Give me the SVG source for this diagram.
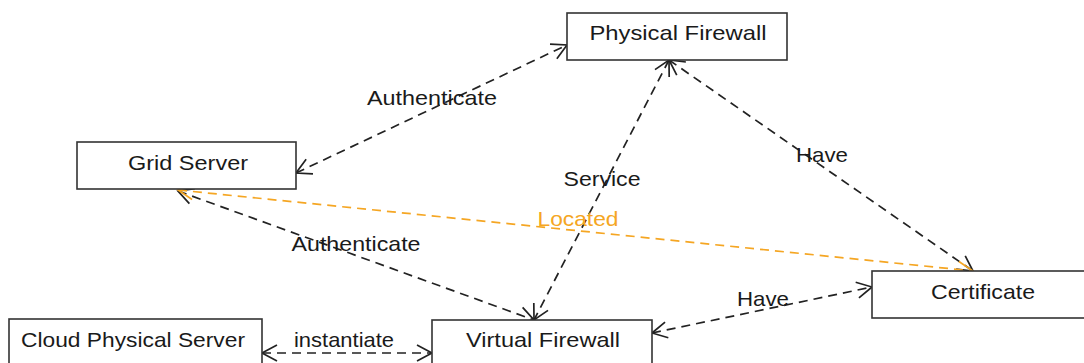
<svg xmlns="http://www.w3.org/2000/svg" width="1084" height="363" viewBox="0 0 1084 363">
<style>
.box{fill:#fff;stroke:#333;stroke-width:1.6}
.lbl{font-family:"Liberation Sans",Arial,sans-serif;font-size:21px;fill:#1a1a1a;text-anchor:middle}
.edge{fill:none;stroke:#222;stroke-width:1.7;stroke-dasharray:9,6}
.orange{stroke:#f5a623}
.olbl{fill:#f5a623}
</style>
<defs>
<marker id="arr" markerUnits="userSpaceOnUse" markerWidth="34" markerHeight="34" viewBox="-17 -17 34 34" refX="0" refY="0" orient="auto-start-reverse">
<path d="M-15,-8 L0,0 L-15,8" fill="none" stroke="#222" stroke-width="1.7"/>
</marker>
<marker id="arrO" markerUnits="userSpaceOnUse" markerWidth="34" markerHeight="34" viewBox="-17 -17 34 34" refX="0" refY="0" orient="auto-start-reverse">
<path d="M-15,-8 L0,0 L-15,8" fill="none" stroke="#f5a623" stroke-width="1.7"/>
</marker>
</defs>
<rect width="1084" height="363" fill="#fff"/>
<g id="connectors">
<path class="edge" d="M296,173 L567,45" marker-start="url(#arr)" marker-end="url(#arr)"/>
<path class="edge" d="M669,60 L534,320" marker-start="url(#arr)" marker-end="url(#arr)"/>
<path class="edge" d="M669,60 L973,271" marker-start="url(#arr)" marker-end="url(#arr)"/>
<path class="edge" d="M178,191 L534,320" marker-start="url(#arr)" marker-end="url(#arr)"/>
<path class="edge orange" d="M178,190 L973,271" marker-start="url(#arrO)" marker-end="url(#arrO)"/>
<path class="edge" d="M652,333 L872,287" marker-start="url(#arr)" marker-end="url(#arr)"/>
<path class="edge" d="M262,353 L432,353" marker-start="url(#arr)" marker-end="url(#arr)"/>
<text class="lbl" x="432" y="105" textLength="130" lengthAdjust="spacingAndGlyphs">Authenticate</text>
<text class="lbl" x="602" y="186" textLength="77" lengthAdjust="spacingAndGlyphs">Service</text>
<text class="lbl" x="822" y="162" textLength="52" lengthAdjust="spacingAndGlyphs">Have</text>
<text class="lbl" x="356" y="251" textLength="129" lengthAdjust="spacingAndGlyphs">Authenticate</text>
<text class="lbl olbl" x="578" y="226" textLength="81" lengthAdjust="spacingAndGlyphs">Located</text>
<text class="lbl" x="763" y="306" textLength="52" lengthAdjust="spacingAndGlyphs">Have</text>
<text class="lbl" x="344" y="347" textLength="100" lengthAdjust="spacingAndGlyphs">instantiate</text>
</g>
<g id="physical-firewall">
<rect class="box" x="567" y="13" width="220" height="47"/>
<text class="lbl" x="678" y="40" textLength="177" lengthAdjust="spacingAndGlyphs">Physical Firewall</text>
</g>
<g id="grid-server">
<rect class="box" x="77" y="142" width="219" height="47"/>
<text class="lbl" x="188" y="170" textLength="120" lengthAdjust="spacingAndGlyphs">Grid Server</text>
</g>
<g id="certificate">
<rect class="box" x="872" y="271" width="230" height="47"/>
<text class="lbl" x="983" y="299" textLength="104" lengthAdjust="spacingAndGlyphs">Certificate</text>
</g>
<g id="cloud-physical-server">
<rect class="box" x="9" y="319" width="253" height="50"/>
<text class="lbl" x="133" y="347" textLength="224" lengthAdjust="spacingAndGlyphs">Cloud Physical Server</text>
</g>
<g id="virtual-firewall">
<rect class="box" x="432" y="320" width="220" height="50"/>
<text class="lbl" x="543" y="347" textLength="154" lengthAdjust="spacingAndGlyphs">Virtual Firewall</text>
</g>
</svg>
